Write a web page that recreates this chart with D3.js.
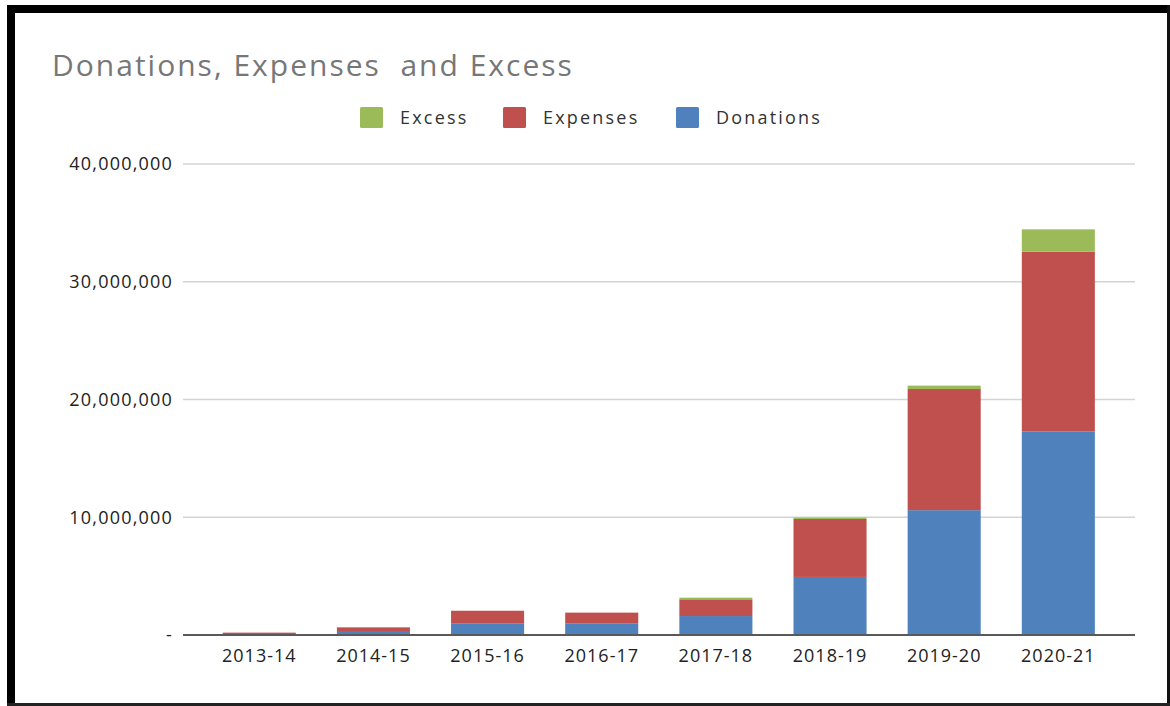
<!DOCTYPE html>
<html>
<head>
<meta charset="utf-8">
<script src="https://cdn.jsdelivr.net/npm/d3@7"></script>
<style>
  html, body { margin: 0; padding: 0; background: #ffffff; }
  svg { display: block; }
  text { font-family: "Open Sans", "Noto Sans", sans-serif; }
</style>
</head>
<body>
<svg id="chart" width="1170" height="706"></svg>
<script>
const categories = ["2013-14", "2014-15", "2015-16", "2016-17", "2017-18", "2018-19", "2019-20", "2020-21"];
const donations = [50000, 340000, 960000, 960000, 1610000, 4930000, 10600000, 17270000];
const expenses = [150000, 310000, 1100000, 940000, 1420000, 4920000, 10290000, 15280000];
const excess = [0, 0, 0, 0, 140000, 120000, 290000, 1900000];
const seriesNames = ["Donations", "Expenses", "Excess"];
const legendOrder = ["Excess", "Expenses", "Donations"];
const yTicks = [0, 10000000, 20000000, 30000000, 40000000];
const titleText = "Donations, Expenses\u00a0 and Excess";

const colors = { Donations: "#4F81BD", Expenses: "#C0504D", Excess: "#9BBB59" };

const rows = categories.map((c, i) => ({ cat: c, Donations: donations[i], Expenses: expenses[i], Excess: excess[i] }));

const svg = d3.select("#chart");
const W = 1170, H = 706;

svg.append("rect").attr("width", W).attr("height", H).attr("fill", "#fff");

// frame
svg.append("rect").attr("x", 7).attr("y", 5).attr("width", 8).attr("height", 701).attr("fill", "#000");
svg.append("rect").attr("x", 7).attr("y", 5).attr("width", 1163).attr("height", 8).attr("fill", "#000");
svg.append("rect").attr("x", 1167).attr("y", 5).attr("width", 3).attr("height", 701).attr("fill", "#111");
svg.append("rect").attr("x", 7).attr("y", 703).attr("width", 1163).attr("height", 3).attr("fill", "#222");

const plotLeft = 183, plotRight = 1135;
const y = d3.scaleLinear().domain([0, 40000000]).range([635, 164]);
const x = d3.scaleBand().domain(categories).range([202.2, 1115.4]).paddingInner(0.36).paddingOuter(0.18);

// title
svg.append("text").attr("x", 52).attr("y", 76)
  .attr("font-size", 30).attr("letter-spacing", 2).attr("fill", "#777").text(titleText);

// gridlines
const grid = svg.append("g");
grid.selectAll("line").data(yTicks.filter(d => d > 0)).join("line")
  .attr("x1", plotLeft).attr("x2", plotRight)
  .attr("y1", d => y(d)).attr("y2", d => y(d))
  .attr("stroke", "#d4d4d4").attr("stroke-width", 1.5);

// y axis labels
const yAxis = d3.axisLeft(y).tickValues(yTicks).tickSize(0).tickPadding(0)
  .tickFormat(d => d === 0 ? "-" : d3.format(",")(d));
const ya = svg.append("g").attr("transform", "translate(173,0)").call(yAxis);
ya.select(".domain").remove();
ya.selectAll("text").attr("font-size", 18).attr("fill", "#222").attr("letter-spacing", 1.2)
  .attr("font-family", "'Open Sans', 'Noto Sans', sans-serif");

// stacked bars
const stack = d3.stack().keys(seriesNames);
const stacked = stack(rows);
svg.append("g").selectAll("g").data(stacked).join("g")
  .attr("fill", d => colors[d.key])
  .selectAll("rect").data(d => d).join("rect")
  .attr("x", d => x(d.data.cat))
  .attr("width", x.bandwidth())
  .attr("y", d => y(d[1]))
  .attr("height", d => Math.max(0, y(d[0]) - y(d[1])));

// x axis
const xAxis = d3.axisBottom(x).tickSize(0).tickPadding(14);
const xa = svg.append("g").attr("transform", "translate(0,635)").call(xAxis);
xa.select(".domain").remove();
xa.selectAll("text").attr("font-size", 18).attr("fill", "#222").attr("letter-spacing", 1)
  .attr("font-family", "'Open Sans', 'Noto Sans', sans-serif");
svg.append("line").attr("x1", plotLeft).attr("x2", plotRight).attr("y1", 635).attr("y2", 635)
  .attr("stroke", "#595959").attr("stroke-width", 2);

// legend
const legendX = [360, 503, 676];
const lg = svg.append("g");
legendOrder.forEach((name, i) => {
  const g = lg.append("g").attr("transform", `translate(${legendX[i]},107)`);
  g.append("rect").attr("width", 23).attr("height", 21).attr("rx", 1.5).attr("fill", colors[name]);
  g.append("text").attr("x", 40).attr("y", 17).attr("font-size", 18)
    .attr("letter-spacing", 2.2).attr("fill", "#333").text(name);
});
</script>
</body>
</html>
